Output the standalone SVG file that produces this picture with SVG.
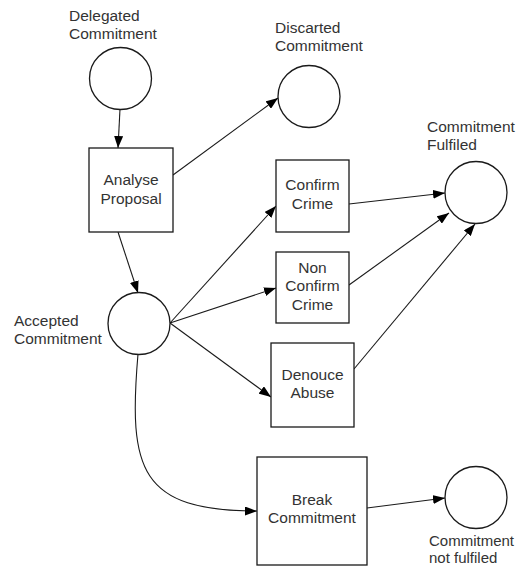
<svg xmlns="http://www.w3.org/2000/svg" width="516" height="567" viewBox="0 0 516 567">
<defs>
<style>
.place{fill:#fff;stroke:#1a1a1a;stroke-width:1.3}
.trans{fill:#fff;stroke:#1a1a1a;stroke-width:1.3}
.lbl{font-family:"Liberation Sans",Arial,sans-serif;font-size:15.5px;fill:#333}
.sm{font-size:15px}
.c{text-anchor:middle}
.arc{fill:none;stroke:#1a1a1a;stroke-width:1.1;marker-end:url(#ah)}
</style>
<marker id="ah" markerUnits="userSpaceOnUse" markerWidth="13" markerHeight="9" refX="12" refY="4.5" orient="auto">
<path d="M0,0 L12,4.5 L0,9 z" fill="#000"/>
</marker>
</defs>
<g id="connectors">
<line class="arc" x1="120" y1="109" x2="118" y2="148"/>
<line class="arc" x1="173" y1="175" x2="278" y2="98"/>
<line class="arc" x1="118" y1="232" x2="138" y2="293"/>
<line class="arc" x1="170" y1="323" x2="276" y2="206"/>
<line class="arc" x1="170" y1="323" x2="276" y2="288"/>
<line class="arc" x1="170" y1="323" x2="271" y2="397"/>
<line class="arc" x1="349" y1="204" x2="445" y2="193"/>
<line class="arc" x1="349" y1="285" x2="449" y2="213"/>
<line class="arc" x1="354" y1="369" x2="475" y2="224"/>
<path class="arc" d="M138,354 C128,470 140,511 257,511"/>
<line class="arc" x1="367" y1="508" x2="445" y2="498"/>
</g>
<g id="delegated">
<circle class="place" cx="120.5" cy="78.5" r="31"/>
<text class="lbl" x="69" y="21">Delegated</text>
<text class="lbl" x="69" y="39">Commitment</text>
</g>
<g id="analyse">
<rect class="trans" x="89" y="148" width="84" height="84"/>
<text class="lbl c" x="131" y="185">Analyse</text>
<text class="lbl c" x="131" y="204">Proposal</text>
</g>
<g id="discarted">
<circle class="place" cx="309" cy="96.5" r="31"/>
<text class="lbl" x="275" y="33">Discarted</text>
<text class="lbl" x="275" y="51">Commitment</text>
</g>
<g id="fulfiled">
<circle class="place" cx="476" cy="192.5" r="31"/>
<text class="lbl" x="427" y="132">Commitment</text>
<text class="lbl" x="427" y="150">Fulfiled</text>
</g>
<g id="confirm">
<rect class="trans" x="276" y="160" width="73" height="72"/>
<text class="lbl c" x="312.5" y="190">Confirm</text>
<text class="lbl c" x="312.5" y="209">Crime</text>
</g>
<g id="nonconfirm">
<rect class="trans" x="276" y="252" width="73" height="71"/>
<text class="lbl c" x="312.5" y="273">Non</text>
<text class="lbl c" x="312.5" y="291">Confirm</text>
<text class="lbl c" x="312.5" y="310">Crime</text>
</g>
<g id="accepted">
<circle class="place" cx="139" cy="323.5" r="31"/>
<text class="lbl" x="14" y="326">Accepted</text>
<text class="lbl" x="14" y="344">Commitment</text>
</g>
<g id="denouce">
<rect class="trans" x="271" y="343" width="83" height="84"/>
<text class="lbl c" x="312.5" y="380">Denouce</text>
<text class="lbl c" x="312.5" y="398">Abuse</text>
</g>
<g id="break">
<rect class="trans" x="257" y="457" width="110" height="108"/>
<text class="lbl c" x="312" y="505">Break</text>
<text class="lbl c" x="312" y="523">Commitment</text>
</g>
<g id="notfulfiled">
<circle class="place" cx="476" cy="497.5" r="31"/>
<text class="lbl sm" x="429" y="546">Commitment</text>
<text class="lbl sm" x="429" y="563">not fulfiled</text>
</g>
</svg>
